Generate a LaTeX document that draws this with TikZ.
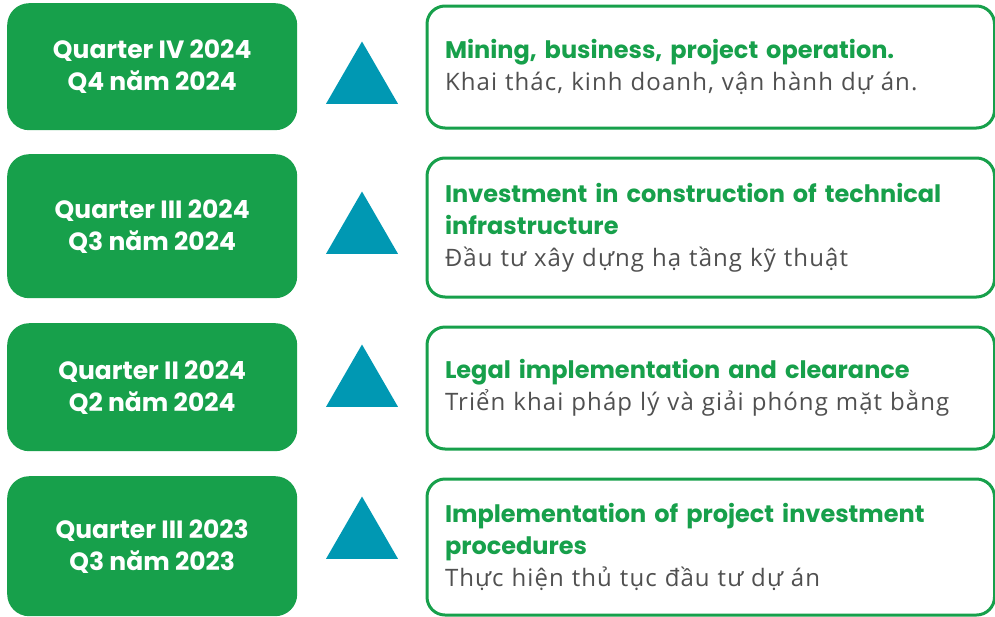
\documentclass[tikz,border=0pt]{standalone}
\usepackage{fontspec}
\setmainfont{Open Sans}
\newfontfamily\headfont{Poppins}
\usetikzlibrary{shapes.geometric}
\definecolor{leafgreen}{HTML}{17A04B}
\definecolor{seateal}{HTML}{0098B3}
\definecolor{bodygray}{HTML}{505050}
\tikzset{
  quarterbox/.style={rectangle, rounded corners=22pt, fill=leafgreen, minimum width=290pt,
    anchor=north west, inner sep=0pt, text=white, align=center,
    font=\headfont\bfseries\fontsize{25}{32}\selectfont},
  stepcard/.style={rectangle, rounded corners=18pt, draw=leafgreen, line width=3pt, fill=white,
    anchor=north west, inner xsep=18pt, inner ysep=0pt, text width=531.5pt, align=left,
    font=\fontsize{24}{32}\selectfont},
  marker/.style={regular polygon, regular polygon sides=3, fill=seateal, draw=none,
    minimum size=83pt, inner sep=0pt},
}
\newcommand{\steptitle}[1]{{\color{leafgreen}\headfont\bfseries #1}}
\newcommand{\stepnote}[1]{{\color{bodygray}\addfontfeatures{LetterSpace=4.5}#1}}
\begin{document}
\begin{tikzpicture}[x=1pt, y=-1pt]
  \useasboundingbox (0,0) rectangle (995,616);

  % quarters
  \node[quarterbox, minimum height=127pt] (qiv24) at (7,3) {Quarter IV 2024\\Q4 năm 2024};
  \node[quarterbox, minimum height=144pt] (qiii24) at (7,154) {Quarter III 2024\\Q3 năm 2024};
  \node[quarterbox, minimum height=128pt] (qii24) at (7,323) {Quarter II 2024\\Q2 năm 2024};
  \node[quarterbox, minimum height=140pt] (qiii23) at (7,476) {Quarter III 2023\\Q3 năm 2023};

  % markers
  \node[marker] (mkiv24) at (362,83) {};
  \node[marker] (mkiii24) at (362,233) {};
  \node[marker] (mkii24) at (362,386) {};
  \node[marker] (mkiii23) at (362,538) {};

  % steps
  \node[stepcard, minimum height=122pt] (operation) at (425.5,4.5)
    {\steptitle{Mining, business, project operation.}\\
     \stepnote{Khai thác, kinh doanh, vận hành dự án.}};
  \node[stepcard, minimum height=139pt] (infrastructure) at (425.5,156.5)
    {\steptitle{Investment in construction of technical}\\
     \steptitle{infrastructure}\\
     \stepnote{Đầu tư xây dựng hạ tầng kỹ thuật}};
  \node[stepcard, minimum height=122pt] (clearance) at (425.5,325.5)
    {\steptitle{Legal implementation and clearance}\\
     \stepnote{Triển khai pháp lý và giải phóng mặt bằng}};
  \node[stepcard, minimum height=136pt] (procedures) at (425.5,477.5)
    {\steptitle{Implementation of project investment}\\
     \steptitle{procedures}\\
     \stepnote{Thực hiện thủ tục đầu tư dự án}};
\end{tikzpicture}
\end{document}
